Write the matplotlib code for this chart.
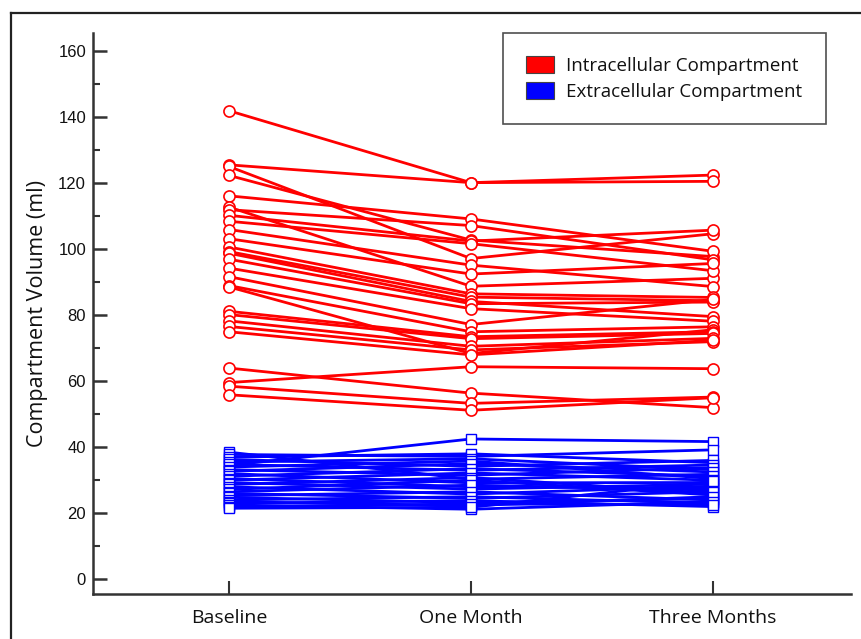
import numpy as np
import matplotlib
matplotlib.use("Agg")
import matplotlib.pyplot as plt
from matplotlib.patches import Patch
from matplotlib.ticker import MultipleLocator

# time points
timepoints = ["Baseline", "One Month", "Three Months"]

# intracellular compartment volume (ml), one entry per subject
red_base = [142.0, 125.6, 125.1, 122.4, 116.2, 112.8, 112.0, 110.3, 108.5, 106.0,
            103.2, 100.7, 99.3, 98.8, 97.0, 94.3, 91.7, 89.0, 88.6, 81.2,
            80.2, 78.3, 76.6, 75.0, 64.0, 59.6, 58.5, 55.9]
red_one = [120.2, 120.2, 97.2, 102.8, 109.2, 88.8, 107.2, 102.5, 101.7, 95.2,
           92.5, 86.5, 85.5, 84.2, 83.5, 82.0, 77.2, 75.0, 68.4, 73.5,
           72.9, 70.6, 69.5, 68.0, 56.4, 64.4, 53.3, 51.2]
red_three = [122.5, 120.6, 104.7, 97.8, 99.4, 91.2, 96.8, 105.8, 93.5, 88.7,
             95.7, 85.4, 84.4, 79.6, 84.0, 78.2, 84.8, 76.5, 75.6, 75.0,
             74.5, 73.0, 72.0, 72.4, 52.0, 63.8, 55.2, 55.0]

# extracellular compartment volume (ml)
blue_base = [34.5, 38.5, 37.8, 37.0, 36.3, 35.5, 34.8, 34.0, 33.2, 32.7,
             32.0, 31.2, 30.5, 30.0, 29.3, 28.7, 28.0, 27.2, 26.5, 26.0,
             25.3, 24.8, 24.0, 23.5, 23.0, 22.5, 22.0, 21.5]
blue_one = [42.5, 30.3, 37.2, 38.0, 34.2, 36.5, 33.0, 35.8, 31.5, 35.0,
            29.2, 33.5, 28.0, 32.2, 27.3, 30.8, 25.8, 30.0, 28.5, 24.5,
            26.5, 23.2, 25.0, 22.3, 23.8, 21.2, 22.8, 21.8]
blue_three = [41.7, 31.8, 39.2, 35.3, 36.0, 33.2, 34.6, 30.5, 33.8, 32.5,
              29.3, 31.2, 27.6, 30.0, 28.8, 26.0, 28.2, 25.5, 27.0, 26.5,
              24.0, 24.4, 23.0, 25.0, 22.0, 23.5, 22.5, 29.7]

label_font = "Open Sans"
num_font = "Liberation Sans"
axis_col = "#333333"

fig = plt.figure(figsize=(8.62, 6.39), dpi=100)
ax = fig.add_axes([0.1079, 0.0704, 0.8791, 0.8776])

x = np.arange(len(timepoints))

for vals in zip(red_base, red_one, red_three):
    ax.plot(x, vals, color="#ff0000", lw=2.0, marker="o", ms=8,
            mfc="white", mec="#ff0000", mew=1.2, zorder=3)

for vals in zip(blue_base, blue_one, blue_three):
    ax.plot(x, vals, color="#0000ff", lw=2.0, marker="s", ms=6.5,
            mfc="white", mec="#0000ff", mew=1.0, zorder=3)

ax.set_xlim(-0.562, 2.57)
ax.set_ylim(-4.5, 165.5)

ax.set_xticks(x)
ax.set_xticklabels(timepoints, fontfamily=label_font, fontsize=14, color="#111111")
ax.yaxis.set_major_locator(MultipleLocator(20))
ax.yaxis.set_minor_locator(MultipleLocator(10))
for lab in ax.get_yticklabels():
    lab.set_fontfamily(num_font)
    lab.set_fontsize(12)
    lab.set_color("#111111")

ax.tick_params(axis="x", direction="in", length=9.5, width=1.5, color=axis_col, pad=11)
ax.tick_params(axis="y", which="major", direction="in", length=10, width=1.8, color=axis_col, pad=5)
ax.tick_params(axis="y", which="minor", direction="in", length=5, width=1.5, color=axis_col)

for side in ["top", "right"]:
    ax.spines[side].set_visible(False)
for side in ["left", "bottom"]:
    ax.spines[side].set_linewidth(1.8)
    ax.spines[side].set_color(axis_col)

ax.set_ylabel("Compartment Volume (ml)", fontfamily=label_font, fontsize=15.5,
              color="#111111", labelpad=7)

handles = [Patch(facecolor="#ff0000", edgecolor="#444444", lw=0.8),
           Patch(facecolor="#0000ff", edgecolor="#444444", lw=0.8)]
leg = fig.legend(handles, ["Intracellular Compartment", "Extracellular Compartment"],
                 loc="upper right", bbox_to_anchor=(826 / 862, 1 - 33 / 639),
                 bbox_transform=fig.transFigure, borderaxespad=0, fancybox=False,
                 frameon=True, edgecolor="#222222", borderpad=1.25,
                 handlelength=1.5, handleheight=1.0, handletextpad=0.65,
                 labelspacing=0.35, prop={"family": label_font, "size": 13.5})
leg.get_frame().set_linewidth(1.2)
for t in leg.get_texts():
    t.set_color("#111111")

# outer border (top and left only)
fig.add_artist(plt.Line2D([11 / 862, 1], [1 - 13 / 639, 1 - 13 / 639],
                          transform=fig.transFigure, color="#222222", lw=1.6))
fig.add_artist(plt.Line2D([11 / 862, 11 / 862], [0, 1 - 13 / 639],
                          transform=fig.transFigure, color="#222222", lw=1.6))

fig.savefig("out.png", dpi=100)
